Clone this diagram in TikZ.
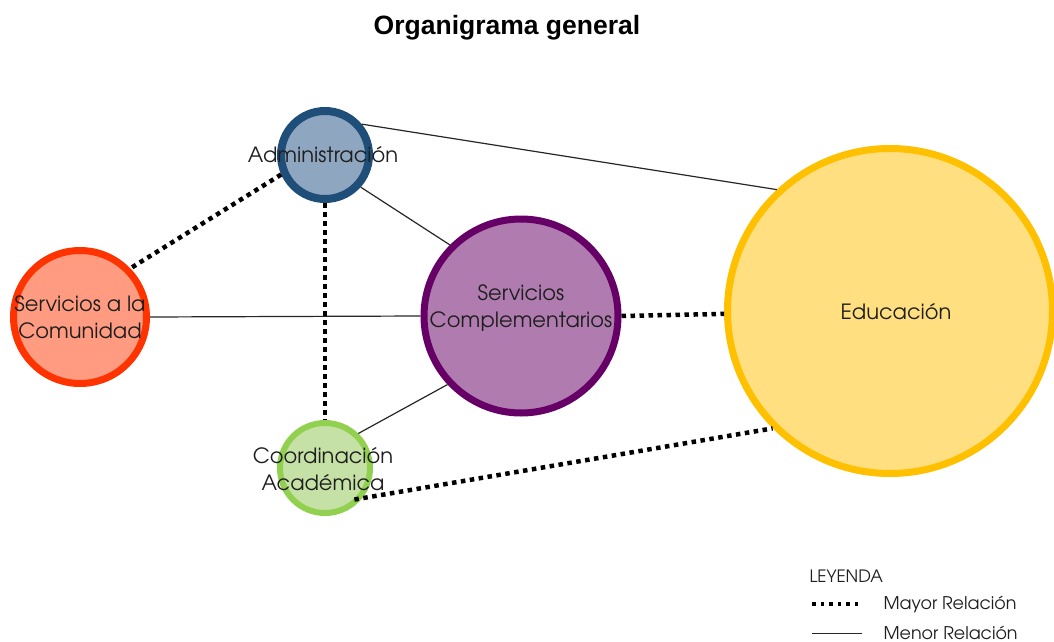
\documentclass[tikz,border=0pt]{standalone}
\usepackage{fontspec}
\setmainfont{Liberation Sans}
\newfontfamily\gothic{TeX Gyre Adventor}
\definecolor{admborde}{HTML}{1F4E79}
\definecolor{admfondo}{HTML}{8FA6C1}
\definecolor{comborde}{HTML}{FF3300}
\definecolor{comfondo}{HTML}{FF9B80}
\definecolor{scborde}{HTML}{660066}
\definecolor{scfondo}{HTML}{B07CB0}
\definecolor{edborde}{HTML}{FFC000}
\definecolor{edfondo}{HTML}{FFDF80}
\definecolor{coborde}{HTML}{92D050}
\definecolor{cofondo}{HTML}{C5E1A5}
\definecolor{texto}{HTML}{1E1E1E}
\tikzset{
  area/.style={circle, inner sep=0pt},
  rotulo/.style={align=center, text=texto, inner sep=0pt,
    font=\gothic\fontsize{21}{26.5}\selectfont},
  mayor/.style={line width=4.5pt, dash pattern=on 4.5pt off 4.5pt},
  menor/.style={line width=1.2pt, draw=black!85},
  leyendatxt/.style={font=\gothic\fontsize{17.5}{20}\selectfont, text=texto, anchor=west},
}
\begin{document}
\begin{tikzpicture}[x=1pt, y=-1pt]
  \useasboundingbox (0,0) rectangle (1054,642);
  \node[font=\bfseries\fontsize{26.5}{30}\selectfont] (titulo) at (507,28) {Organigrama general};
  \node[area, draw=edborde, fill=edfondo, line width=7pt, minimum size=325pt] (edu) at (890,311) {};
  \node[area, draw=scborde, fill=scfondo, line width=7pt, minimum size=194pt] (sc) at (521,316) {};
  \node[area, draw=comborde, fill=comfondo, line width=7pt, minimum size=133pt] (com) at (80,317) {};
  \node[area, draw=admborde, fill=admfondo, line width=8pt, minimum size=88pt] (adm) at (325,155) {};
  \node[area, draw=coborde, fill=cofondo, line width=6pt, minimum size=90pt] (coord) at (325,468) {};
  \node[rotulo] (edutxt) at (896,312) {Educaci\'on};
  \node[rotulo] (sctxt) at (521,308) {Servicios\\Complementarios};
  \node[rotulo] (comtxt) at (80,317) {Servicios a la\\Comunidad};
  \node[rotulo] (admtxt) at (323,155) {Administraci\'on};
  \node[rotulo] (coordtxt) at (323,469) {Coordinaci\'on\\Acad\'emica};
  % relaciones
  \draw[menor] (adm.40) -- (edu.133);
  \draw[menor] (adm.-42) -- (sc.135);
  \draw[menor] (com.east) -- (sc.west);
  \draw[menor] (sc.223) -- (coord.46);
  \draw[mayor] (adm.204) -- (com.44);
  \draw[mayor] (adm.south) -- (coord.north);
  \draw[mayor] (sc.east) -- (edu.181.5);
  \draw[mayor, shorten <=-8pt] (coord.-39) -- (edu.225);
  % leyenda
  \node[leyendatxt, font=\gothic\fontsize{17}{20}\selectfont] (leyenda) at (806,576) {LEYENDA};
  \coordinate (may1) at (812,604);
  \coordinate (may2) at (862,604);
  \coordinate (men1) at (812,633);
  \coordinate (men2) at (862,633);
  \draw[mayor, line width=3.5pt, dash pattern=on 3.5pt off 5pt] (may1) -- (may2);
  \draw[menor, line width=1pt] (men1) -- (men2);
  \node[leyendatxt] (mayortxt) at (880,604) {Mayor Relaci\'on};
  \node[leyendatxt] (menortxt) at (880,633) {Menor Relaci\'on};
\end{tikzpicture}
\end{document}
